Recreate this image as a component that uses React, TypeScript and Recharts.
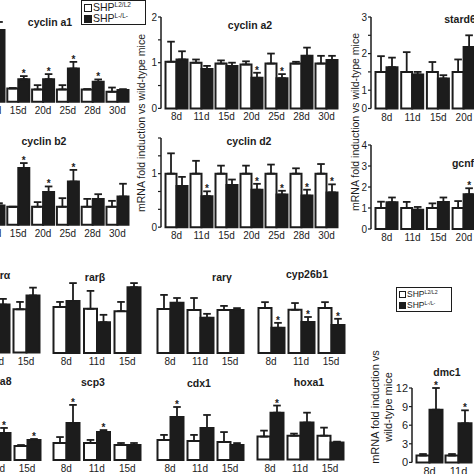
import React from "react";
import { BarChart, Bar, XAxis, YAxis, ErrorBar, LabelList } from "recharts";

const INK = "#1c1c1c";
const FONT = "'Liberation Sans', Arial, sans-serif";

// ---- top row, left: cyclin a1 / cyclin b2 (8d group is off the picture)
const a1Days = ["11d", "15d", "20d", "25d", "28d", "30d"];
const a1Wt = [1.0, 1.0, 0.93, 0.93, 0.93, 0.75];
const a1WtErr = [1.1, 1.03, 1.25, 1.25, 0.95, 1.07];
const a1Ko = [5.4, 1.7, 1.7, 2.5, 1.5, 0.88];
const a1KoErr = [6.0, 1.93, 2.08, 3.0, 1.68, 0.95];
const a1Star = [0, 1, 1, 1, 1, 0];

const b2Wt = [1.0, 1.0, 1.0, 1.0, 1.0, 1.0];
const b2WtErr = [1.1, 1.0, 1.26, 1.48, 1.44, 1.33];
const b2Ko = [1.07, 3.15, 1.82, 2.4, 1.43, 1.57];
const b2KoErr = [1.2, 3.43, 2.13, 3.05, 1.7, 2.28];
const b2Star = [0, 1, 1, 1, 0, 0];

// ---- top row, middle: cyclin a2 / cyclin d2
const midDays = ["8d", "11d", "15d", "20d", "25d", "28d", "30d"];
const a2Wt = [1.02, 1.0, 0.98, 0.96, 0.98, 0.98, 0.98];
const a2WtErr = [1.46, 1.07, 1.05, 1.03, 1.2, 1.02, 1.15];
const a2Ko = [1.07, 0.86, 0.93, 0.67, 0.66, 1.15, 1.06];
const a2KoErr = [1.25, 0.93, 1.0, 0.78, 0.75, 1.33, 1.15];
const a2Star = [0, 0, 0, 1, 1, 0, 0];

const d2Wt = [1, 1, 1, 1, 1, 1, 1];
const d2WtErr = [1.38, 1.24, 1.15, 1.15, 1.17, 1.1, 1.18];
const d2Ko = [0.77, 0.58, 0.79, 0.7, 0.61, 0.59, 0.65];
const d2KoErr = [0.94, 0.67, 0.89, 0.81, 0.68, 0.7, 0.8];
const d2Star = [0, 1, 0, 1, 1, 1, 1];

// ---- top row, right: stard6 / gcnf
const rightDays = ["8d", "11d", "15d", "20d"];
const sdWt = [1, 1, 1, 1];
const sdWtErr = [1.43, 1.54, 1.27, 1.34];
const sdKo = [1.13, 0.93, 0.82, 1.68];
const sdKoErr = [1.39, 1.0, 0.91, 2.0];
const sdStar = [0, 0, 0, 0];
const sdTicks = [0, 0.5, 1, 1.5, 2, 2.5];
const sdTickText: Record<string, string> = { "0": "0", "0.5": "1", "1.5": "2", "2.5": "3" };

const gcWt = [1, 1, 1, 1];
const gcWtErr = [1.3, 1.29, 1.22, 1.33];
const gcKo = [1.27, 0.92, 1.29, 1.65];
const gcKoErr = [1.5, 1.05, 1.5, 1.94];
const gcStar = [0, 0, 0, 1];

// ---- bottom rows
const lowDays = ["8d", "11d", "15d"];
const cutDays = ["11d", "15d"];

const raWt = [1.0, 1.0];
const raWtErr = [1.1, 1.17];
const raKo = [1.11, 1.32];
const raKoErr = [1.24, 1.5];

const rbWt = [1.0, 0.96, 0.91];
const rbWtErr = [1.11, 1.35, 1.11];
const rbKo = [1.13, 0.67, 1.43];
const rbKoErr = [1.52, 0.83, 1.52];

const rgWt = [1.0, 0.98, 0.98];
const rgWtErr = [1.32, 1.25, 1.07];
const rgKo = [1.14, 0.8, 0.98];
const rgKoErr = [1.25, 0.89, 1.02];

const cyWt = [1.0, 0.96, 1.0];
const cyWtErr = [1.13, 1.11, 1.13];
const cyKo = [0.56, 0.69, 0.62];
const cyKoErr = [0.67, 0.8, 0.76];

const s8Wt = [1.0, 1.0];
const s8WtErr = [1.1, 1.07];
const s8Ko = [1.93, 1.43];
const s8KoErr = [2.29, 1.5];

const scWt = [1.0, 1.0, 0.88];
const scWtErr = [1.35, 1.18, 1.0];
const scKo = [2.18, 1.65, 0.88];
const scKoErr = [3.24, 1.76, 1.0];

const cdWt = [1.05, 1.0, 0.95];
const cdWtErr = [1.32, 1.32, 1.47];
const cdKo = [2.26, 1.68, 0.79];
const cdKoErr = [2.79, 2.37, 0.89];

const hxWt = [1.0, 1.04, 1.04];
const hxWtErr = [1.26, 1.13, 1.39];
const hxKo = [2.04, 1.61, 0.74];
const hxKoErr = [2.35, 2.04, 0.78];

const dmDays = ["8d", "11d"];
const dmWt = [1.1, 1.1];
const dmWtErr = [1.35, 1.35];
const dmKo = [8.5, 6.3];
const dmKoErr = [12.0, 8.4];

type Row = { d: string; wt: number; wtE: number[]; ko: number; koE: number[]; koTop: number; star: number };

const rows = (days: string[], wt: number[], wtErr: number[], ko: number[], koErr: number[], star: number[]): Row[] =>
  days.map((d, i) => ({
    d,
    wt: wt[i],
    wtE: [0, wtErr[i] - wt[i]],
    ko: ko[i],
    koE: [0, koErr[i] - ko[i]],
    koTop: koErr[i],
    star: star[i],
  }));

type PanelProps = {
  data: Row[];
  left: number;
  band: number;
  inset: number;
  pad?: number;
  baseline: number;
  unit: number;
  max: number;
  axis?: { ticks: number[]; fmt: (v: number) => string; width: number };
  fs?: number;
  title: string;
  tx: number;
  ty: number;
};

function Panel(p: PanelProps) {
  const pad = p.pad ?? 0;
  const fs = p.fs ?? 10;
  const tickStyle = { fontSize: fs, fill: INK, fontFamily: FONT };
  const plotW = pad + p.data.length * p.band;
  const plotH = p.max * p.unit;
  const top = p.baseline - plotH;
  const aw = p.axis ? p.axis.width : 0;
  const mt = 16;
  const xh = 18;

  const star = (lp: any) => {
    const r = p.data[lp.index];
    if (!r || !r.star) return null;
    const h = Number(lp.height);
    const capY = Number(lp.y) + h - (r.koTop / r.ko) * h;
    return (
      <text x={Number(lp.x) + Number(lp.width) / 2} y={capY + 1} textAnchor="middle" fontSize={10}
        fontWeight="bold" fontFamily={FONT} fill={INK}>
        *
      </text>
    );
  };

  return (
    <>
      <div style={{ position: "absolute", left: p.left - aw, top: top - mt }}>
        <BarChart
          width={aw + plotW + 6}
          height={mt + plotH + xh}
          data={p.data}
          margin={{ top: mt, right: 6, bottom: 0, left: 0 }}
          barCategoryGap={p.inset}
          barGap={0}
        >
          <XAxis
            dataKey="d"
            axisLine={false}
            tickLine={false}
            tickSize={3}
            tickMargin={2}
            height={xh}
            interval={0}
            padding={{ left: pad, right: 0 }}
            tick={tickStyle}
          />
          {p.axis ? (
            <YAxis
              width={aw}
              domain={[0, p.max]}
              ticks={p.axis.ticks}
              tickFormatter={p.axis.fmt}
              interval={0}
              axisLine={{ stroke: INK, strokeWidth: 1.5 }}
              tickLine={{ stroke: INK, strokeWidth: 1.2 }}
              tickSize={3}
              tickMargin={1}
              tick={tickStyle}
            />
          ) : (
            <YAxis hide domain={[0, p.max]} />
          )}
          <Bar dataKey="wt" fill="#ffffff" stroke={INK} strokeWidth={2} isAnimationActive={false}>
            <ErrorBar dataKey="wtE" direction="y" width={3.8} stroke={INK} strokeWidth={1.8} />
          </Bar>
          <Bar dataKey="ko" fill={INK} stroke={INK} strokeWidth={2} isAnimationActive={false}>
            <ErrorBar dataKey="koE" direction="y" width={3.8} stroke={INK} strokeWidth={1.8} />
            <LabelList dataKey="ko" content={star} />
          </Bar>
        </BarChart>
      </div>
      <div
        style={{
          position: "absolute",
          left: p.tx,
          top: p.ty,
          transform: "translate(-50%, -50%)",
          fontFamily: FONT,
          fontWeight: "bold",
          fontSize: 10.5,
          color: INK,
          whiteSpace: "nowrap",
        }}
      >
        {p.title}
      </div>
    </>
  );
}

function VLabel({ x, y, lines, fs, lh }: { x: number; y: number; lines: string[]; fs: number; lh: number }) {
  return (
    <div
      style={{
        position: "absolute",
        left: x,
        top: y,
        transform: "translate(-50%, -50%) rotate(-90deg)",
        fontFamily: FONT,
        fontSize: fs,
        lineHeight: `${lh}px`,
        color: INK,
        whiteSpace: "nowrap",
        textAlign: "center",
      }}
    >
      {lines.map((l) => (
        <div key={l}>{l}</div>
      ))}
    </div>
  );
}

function Key({ x, y, w, h, fs, sq }: { x: number; y: number; w: number; h: number; fs: number; sq: number }) {
  const item = (fill: string, sup: string) => (
    <div style={{ display: "flex", alignItems: "center", height: (h - 3) / 2 }}>
      <span style={{ width: sq, height: sq, boxSizing: "border-box", border: `1.2px solid ${INK}`, background: fill, marginRight: 1 }} />
      <span>
        SHP<sup style={{ fontSize: fs * 0.62, verticalAlign: "top", lineHeight: 1 }}>{sup}</sup>
      </span>
    </div>
  );
  return (
    <div
      style={{
        position: "absolute",
        left: x,
        top: y,
        width: w,
        height: h,
        boxSizing: "border-box",
        border: `1.3px solid ${INK}`,
        padding: "1px 2px",
        fontFamily: FONT,
        fontSize: fs,
        lineHeight: 1,
        color: INK,
        background: "#fff",
      }}
    >
      {item("#ffffff", "L2/L2")}
      {item(INK, "L-/L-")}
    </div>
  );
}

const intOnly = (v: number) => (Number.isInteger(v) ? String(v) : "");

export default function App() {
  return (
    <div style={{ position: "absolute", left: 0, top: 0, width: 474, height: 474, overflow: "hidden", background: "#fff" }}>
      <Panel data={rows(a1Days, a1Wt, a1WtErr, a1Ko, a1KoErr, a1Star)} left={-19.5} band={24.8} inset={1.5}
        baseline={102} unit={13.3} max={6.6} title="cyclin a1" tx={50} ty={22} />
      <Panel data={rows(a1Days, b2Wt, b2WtErr, b2Ko, b2KoErr, b2Star)} left={-19.5} band={24.8} inset={1.5}
        baseline={225} unit={18} max={4.6} title="cyclin b2" tx={44} ty={141} />

      <Panel data={rows(midDays, a2Wt, a2WtErr, a2Ko, a2KoErr, a2Star)} left={161} band={25} inset={1.5} pad={3}
        baseline={108} unit={45.7} max={2}
        axis={{ ticks: [0, 0.5, 1, 1.5, 2], fmt: intOnly, width: 14 }}
        title="cyclin a2" tx={250} ty={25} />
      <Panel data={rows(midDays, d2Wt, d2WtErr, d2Ko, d2KoErr, d2Star)} left={161} band={25} inset={1.5} pad={3}
        baseline={227} unit={53.5} max={5 / 3}
        axis={{ ticks: [0, 1 / 3, 2 / 3, 1, 4 / 3, 5 / 3], fmt: (v) => (Math.abs(v - 1) < 1e-6 ? "1" : v === 0 ? "0" : ""), width: 14 }}
        title="cyclin d2" tx={249} ty={141} />
      <VLabel x={141} y={123} fs={10.5} lh={14} lines={["mRNA fold induction vs wild-type mice"]} />

      <Panel data={rows(rightDays, sdWt, sdWtErr, sdKo, sdKoErr, sdStar)} left={371} band={25.7} inset={1.5} pad={3}
        baseline={108.3} unit={36.6} max={2.5}
        axis={{ ticks: sdTicks, fmt: (v) => sdTickText[String(v)] ?? "", width: 14 }}
        title="stard6" tx={460} ty={19} />
      <Panel data={rows(rightDays, gcWt, gcWtErr, gcKo, gcKoErr, gcStar)} left={371} band={25.7} inset={1.5} pad={3}
        baseline={229} unit={21} max={4}
        axis={{ ticks: [0, 1, 2, 3, 4], fmt: (v) => String(v), width: 14 }}
        title="gcnf" tx={463} ty={163} />
      <VLabel x={355} y={122} fs={10.5} lh={14} lines={["mRNA fold induction vs wild-type mice"]} />

      <Key x={81} y={0} w={65} h={25} fs={10.5} sq={8} />

      <Panel data={rows(cutDays, raWt, raWtErr, raKo, raKoErr, [0, 0])} left={-19.5} band={30} inset={2.5}
        baseline={353} unit={43.3} max={2} title="rarα" tx={0} ty={275} />
      <Panel data={rows(lowDays, rbWt, rbWtErr, rbKo, rbKoErr, [0, 0, 0])} left={50.5} band={30.5} inset={2.5}
        baseline={353} unit={46} max={2} title="rarβ" tx={95} ty={277} />
      <Panel data={rows(lowDays, rgWt, rgWtErr, rgKo, rgKoErr, [0, 0, 0])} left={154.5} band={30} inset={2.5}
        baseline={353} unit={44} max={2} title="rarγ" tx={222} ty={277} />
      <Panel data={rows(lowDays, cyWt, cyWtErr, cyKo, cyKoErr, [1, 1, 1])} left={256} band={30} inset={2.5}
        baseline={353} unit={45} max={2} title="cyp26b1" tx={307} ty={274} />

      <Panel data={rows(cutDays, s8Wt, s8WtErr, s8Ko, s8KoErr, [1, 1])} left={-18.5} band={30} inset={2.5}
        baseline={460} unit={14} max={4} title="stra8" tx={-1} ty={381} />
      <Panel data={rows(lowDays, scWt, scWtErr, scKo, scKoErr, [1, 1, 0])} left={50.5} band={30.5} inset={2.5}
        baseline={460} unit={17} max={4} title="scp3" tx={93} ty={382} />
      <Panel data={rows(lowDays, cdWt, cdWtErr, cdKo, cdKoErr, [1, 0, 0])} left={154.5} band={30} inset={2.5}
        baseline={460} unit={19} max={4} title="cdx1" tx={199} ty={383} />
      <Panel data={rows(lowDays, hxWt, hxWtErr, hxKo, hxKoErr, [1, 0, 0])} left={254.5} band={30} inset={2.5}
        baseline={460} unit={23} max={3.2} title="hoxa1" tx={309} ty={382} />

      <Key x={396} y={287} w={56} h={25} fs={8.5} sq={7} />
      <Panel data={rows(dmDays, dmWt, dmWtErr, dmKo, dmKoErr, [1, 1])} left={411.7} band={29} inset={1.5} pad={3}
        baseline={462.7} unit={6.2} max={12} fs={11}
        axis={{ ticks: [0, 3, 6, 9, 12], fmt: (v) => String(v), width: 20 }}
        title="dmc1" tx={447} ty={372} />
      <VLabel x={382} y={407} fs={11} lh={13} lines={["mRNA fold induction vs", "wild-type mice"]} />
    </div>
  );
}
